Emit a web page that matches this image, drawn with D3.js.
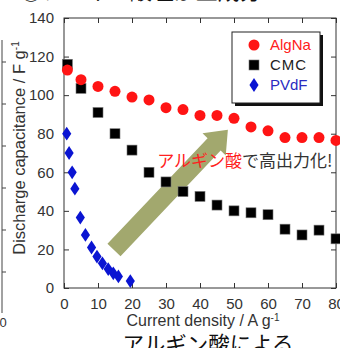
<!DOCTYPE html>
<html>
<head>
<meta charset="utf-8">
<script src="https://cdn.jsdelivr.net/npm/d3@7"></script>
<style>
  body { margin: 0; background: #fff; overflow: hidden; }
  svg { display: block; }
  text { font-family: "Liberation Sans", Arial, sans-serif; }
  .jp { font-family: "Noto Sans CJK JP", sans-serif; }
</style>
</head>
<body>
<div id="chart"></div>
<script>
// data
var xAlg = [1, 5, 10, 15, 20, 25, 30, 35, 40, 45, 50, 55, 60, 65, 70, 75, 80];
var yAlg = [113, 108, 104.5, 102, 99, 97.5, 93.5, 92.5, 89.5, 89.5, 88, 83.5, 81.5, 78, 78, 78, 76.5];

var xCmc = [1, 5, 10, 15, 20, 25, 30, 35, 40, 45, 50, 55, 60, 65, 70, 75, 80];
var yCmc = [116, 103.5, 91, 80, 71.5, 60, 55, 50, 47.5, 43, 40, 39, 38, 30.5, 27.5, 30, 25.5];

var xPvdf = [0.8, 1.5, 2.4, 3.2, 4.8, 6.3, 8.1, 9.7, 11.3, 13, 14.5, 16, 19.5];
var yPvdf = [80, 70, 60, 51.5, 36.5, 27.5, 21, 16.3, 12.8, 9.8, 7.6, 6, 3.6];

var xTicks = [0, 10, 20, 30, 40, 50, 60, 70, 80];
var yTicks = [0, 20, 40, 60, 80, 100, 120, 140];

var seriesNames = ["AlgNa", "CMC", "PVdF"];

var width = 340, height = 348;

var svg = d3.select("#chart")
  .append("svg")
    .attr("width", width)
    .attr("height", height);

var x = d3.scaleLinear().domain([0, 80]).range([64, 336]);
var y = d3.scaleLinear().domain([0, 140]).range([288, 18]);

// bits of the neighbouring pictures that are cut off
svg.append("text")
  .attr("class", "jp")
  .attr("x", 20).attr("y", -1)
  .attr("font-size", 22)
  .attr("fill", "#111")
  .text("③アルギン酸塩が主成分");

svg.append("line")
  .attr("x1", 2).attr("x2", 2)
  .attr("y1", 40).attr("y2", 313)
  .attr("stroke", "#444");
[62, 104, 146, 188, 230, 272].forEach(function(t) {
  svg.append("line")
    .attr("x1", 2).attr("x2", 6)
    .attr("y1", t).attr("y2", t)
    .attr("stroke", "#444");
});
svg.append("text")
  .attr("x", 3).attr("y", 327)
  .attr("text-anchor", "middle")
  .attr("font-size", 13)
  .attr("fill", "#333")
  .text("0");

// frame
svg.append("rect")
  .attr("x", x(0)).attr("y", y(140))
  .attr("width", x(80) - x(0))
  .attr("height", y(0) - y(140))
  .attr("fill", "none")
  .attr("stroke", "#333")
  .attr("stroke-width", 1);

// axes with inward ticks
var axisB = svg.append("g")
  .attr("transform", "translate(0," + y(0) + ")")
  .call(d3.axisBottom(x).tickValues(xTicks).tickSizeInner(-5).tickSizeOuter(0).tickPadding(10));
var axisT = svg.append("g")
  .attr("transform", "translate(0," + y(140) + ")")
  .call(d3.axisTop(x).tickValues(xTicks).tickSizeInner(-5).tickSizeOuter(0).tickFormat(""));
var axisL = svg.append("g")
  .attr("transform", "translate(" + x(0) + ",0)")
  .call(d3.axisLeft(y).tickValues(yTicks).tickSizeInner(-5).tickSizeOuter(0).tickPadding(10));
var axisR = svg.append("g")
  .attr("transform", "translate(" + x(80) + ",0)")
  .call(d3.axisRight(y).tickValues(yTicks).tickSizeInner(-5).tickSizeOuter(0).tickFormat(""));

[axisB, axisT, axisL, axisR].forEach(function(a) {
  a.select(".domain").remove();
  a.selectAll("line").attr("stroke", "#333");
  a.selectAll("text")
    .attr("font-size", 15)
    .attr("fill", "#333")
    .style("font-family", "'Liberation Sans', Arial, sans-serif");
});

// axis titles
var xTitle = svg.append("text")
  .attr("x", 203).attr("y", 326)
  .attr("text-anchor", "middle")
  .attr("font-size", 16)
  .attr("fill", "#333")
  .text("Current density / A g");
xTitle.append("tspan").attr("dy", -5).attr("font-size", 10).text("-1");

var yTitle = svg.append("text")
  .attr("transform", "translate(25,148) rotate(-90)")
  .attr("text-anchor", "middle")
  .attr("font-size", 16.5)
  .attr("fill", "#333")
  .text("Discharge capacitance / F g");
yTitle.append("tspan").attr("dy", -6).attr("font-size", 10).text("-1");

// big arrow
var tail = [x(14.7), y(19.7)], tip = [x(48.2), y(82)];
var ang = Math.atan2(tip[1] - tail[1], tip[0] - tail[0]);
var len = Math.hypot(tip[0] - tail[0], tip[1] - tail[1]);
var sw = 9, hw = 16, hl = 20;
var arrowPts = [[0, -sw], [len - hl, -sw], [len - hl, -hw], [len, 0], [len - hl, hw], [len - hl, sw], [0, sw]];
svg.append("path")
  .attr("d", d3.line()(arrowPts))
  .attr("transform", "translate(" + tail[0] + "," + tail[1] + ") rotate(" + (ang * 180 / Math.PI) + ")")
  .attr("fill", "#a2a86e");

// series
svg.append("g").selectAll("path")
  .data(xPvdf)
  .enter().append("path")
    .attr("d", d3.symbol().type(d3.symbolDiamond).size(55))
    .attr("transform", (d, i) => "translate(" + x(d) + "," + y(yPvdf[i]) + ") scale(1.15,1)")
    .attr("fill", "#0a14d2");

svg.append("g").selectAll("rect")
  .data(xCmc)
  .enter().append("rect")
    .attr("x", d => x(d) - 5)
    .attr("y", (d, i) => y(yCmc[i]) - 5)
    .attr("width", 10).attr("height", 10)
    .attr("fill", "#000")
    .attr("stroke", "#777")
    .attr("stroke-width", 0.6);

svg.append("g").selectAll("circle")
  .data(xAlg)
  .enter().append("circle")
    .attr("cx", d => x(d))
    .attr("cy", (d, i) => y(yAlg[i]))
    .attr("r", 5.5)
    .attr("fill", "#ff1414");

// annotation text
var note = svg.append("text")
  .attr("class", "jp")
  .attr("x", x(27.4)).attr("y", y(62.9))
  .attr("font-size", 17);
note.append("tspan").attr("fill", "#ff2020").text("アルギン酸");
note.append("tspan").attr("fill", "#333").text("で高出力化!");

// legend
var lg = svg.append("g").attr("transform", "translate(232,32)");
lg.append("rect")
  .attr("x", 3).attr("y", 3).attr("width", 88).attr("height", 71)
  .attr("fill", "#111");
lg.append("rect")
  .attr("x", 0).attr("y", 0).attr("width", 88).attr("height", 71)
  .attr("fill", "#fff").attr("stroke", "#222").attr("stroke-width", 1);

var lgColors = ["#ff2020", "#222", "#2a2ac0"];
seriesNames.forEach(function(name, i) {
  var cy = 13 + i * 20;
  if (i === 0) {
    lg.append("circle").attr("cx", 22).attr("cy", cy).attr("r", 5.5).attr("fill", "#ff1414");
  } else if (i === 1) {
    lg.append("rect").attr("x", 17).attr("y", cy - 5).attr("width", 10).attr("height", 10)
      .attr("fill", "#000").attr("stroke", "#777").attr("stroke-width", 0.6);
  } else {
    lg.append("path").attr("d", d3.symbol().type(d3.symbolDiamond).size(55))
      .attr("transform", "translate(22," + cy + ") scale(1.15,1)").attr("fill", "#0a14d2");
  }
  lg.append("text")
    .attr("x", 38).attr("y", cy)
    .attr("dy", "0.36em")
    .attr("font-size", 15)
    .attr("fill", lgColors[i])
    .attr("letter-spacing", i === 1 ? 1 : 0)
    .text(name);
});

// caption below, cut off by the window
svg.append("text")
  .attr("class", "jp")
  .attr("x", 208).attr("y", 352)
  .attr("text-anchor", "middle")
  .attr("font-size", 21.5)
  .attr("fill", "#111")
  .text("アルギン酸による");
</script>
</body>
</html>
